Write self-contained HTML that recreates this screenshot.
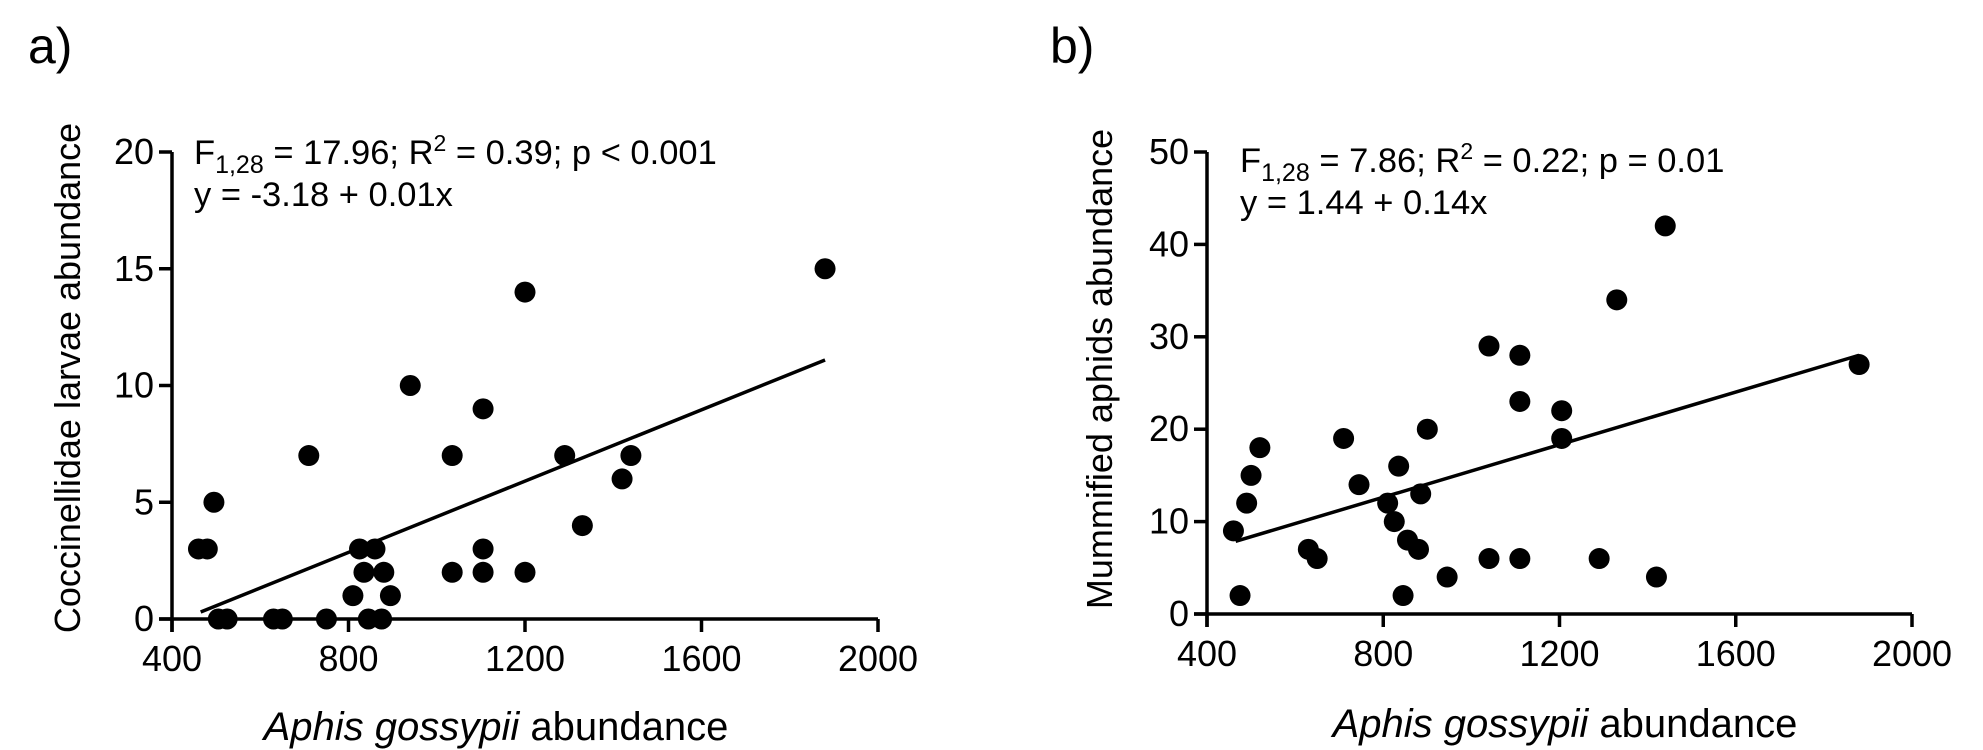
<!DOCTYPE html>
<html><head><meta charset="utf-8"><style>
html,body{margin:0;padding:0;background:#fff;}
svg{display:block;font-family:"Liberation Sans",Arial,sans-serif;}
</style></head><body>
<svg id="chart" width="1983" height="750" viewBox="0 0 1983 750" xmlns="http://www.w3.org/2000/svg">
<text x="28" y="63" font-size="50">a)</text>
<text x="1050" y="63" font-size="50">b)</text>
</svg>
<script>
const xTicks = [400, 800, 1200, 1600, 2000];
const aYTicks = [0, 5, 10, 15, 20];
const bYTicks = [0, 10, 20, 30, 40, 50];
const aX = [460,480,495,505,525,630,650,710,750,810,825,835,845,860,880,875,895,940,1035,1035,1105,1105,1105,1200,1200,1290,1330,1420,1440,1880];
const aY = [3,3,5,0,0,0,0,7,0,1,3,2,0,3,2,0,1,10,7,2,9,3,2,14,2,7,4,6,7,15];
const bX = [460,475,490,500,520,630,650,710,745,810,825,835,845,855,880,885,900,945,1040,1040,1110,1110,1110,1205,1205,1290,1330,1420,1440,1880];
const bY = [9,2,12,15,18,7,6,19,14,12,10,16,2,8,7,13,20,4,29,6,28,23,6,22,19,6,34,4,42,27];
const aFit = [-3.25, 0.00763];
const bFit = [1.25, 0.01423];
const fitRange = [465, 1880];

const NS = 'http://www.w3.org/2000/svg';
const svg = document.getElementById('chart');
function mk(tag, attrs, parent){const e=document.createElementNS(NS,tag);for(const k in attrs)e.setAttribute(k,attrs[k]);(parent||svg).appendChild(e);return e;}

function panel(p){
  const g = mk('g',{});
  
  
  const sx = v => p.x0 + (v - 400) / 1600 * (p.x1 - p.x0);
  const sy = v => p.y0 - v / p.ymax * (p.y0 - p.y1);
  const ya = mk('line',{x1:p.x0,y1:p.y1,x2:p.x0,y2:p.y0+13,stroke:'#000','stroke-width':3.5},g);
  
  
  const xa = mk('line',{x1:p.x0-13,y1:p.y0,x2:p.x1,y2:p.y0,stroke:'#000','stroke-width':3.5},g);
  
  
  p.yt.forEach(v=>{
    const y=sy(v);
    mk('line',{x1:p.x0-13,y1:y,x2:p.x0,y2:y,stroke:'#000','stroke-width':3.5},g);
    const t=mk('text',{x:p.x0-18,y:y+12,'font-size':36,'text-anchor':'end'},g);
    t.textContent=v;
    
    
  });
  xTicks.forEach(v=>{
    const x=sx(v);
    mk('line',{x1:x,y1:p.y0,x2:x,y2:p.y0+13,stroke:'#000','stroke-width':3.5},g);
    const t=mk('text',{x:x,y:p.y0+52,'font-size':36,'text-anchor':'middle'},g);
    t.textContent=v;
    
    
  });
  p.xs.forEach((v,i)=>{
    const c=mk('circle',{cx:sx(v),cy:sy(p.ys[i]),r:10.5,fill:'#000'},g);
    
    
  });
  const l=mk('line',{x1:sx(fitRange[0]),y1:sy(p.fit[0]+p.fit[1]*fitRange[0]),x2:sx(fitRange[1]),y2:sy(p.fit[0]+p.fit[1]*fitRange[1]),stroke:'#000','stroke-width':3.5},g);
  
  
  const a1=mk('text',{x:p.ax,y:p.ay,'font-size':34.5},g);
  a1.innerHTML='F<tspan font-size="25" dy="9">1,28</tspan><tspan dy="-9"> = '+p.stat1+'; R</tspan><tspan font-size="23" dy="-13">2</tspan><tspan dy="13"> = '+p.stat2+'</tspan>';
  
  
  const a2=mk('text',{x:p.ax,y:p.ay+42,'font-size':34.5},g);
  a2.textContent=p.eq;
  
  
  const yt=mk('text',{x:0,y:0,'font-size':36,'text-anchor':'middle',transform:'translate('+p.ytx+','+p.yty+') rotate(-90)'},g);
  yt.textContent=p.ytitle;
  
  
  const xt=mk('text',{x:p.xtx,y:p.xty,'font-size':40,'text-anchor':'middle'},g);
  xt.innerHTML='<tspan font-style="italic">Aphis gossypii</tspan> abundance';
  
  
}
panel({id:'panel-a',x0:172,x1:878,y0:619,y1:152,ymax:20,yt:aYTicks,xs:aX,ys:aY,fit:aFit,
  ax:194,ay:164,stat1:'17.96',stat2:'0.39; p &lt; 0.001',eq:'y = -3.18 + 0.01x',
  ytitle:'Coccinellidae larvae abundance',ytx:80,yty:378,xtx:496,xty:740});
panel({id:'panel-b',x0:1207,x1:1912,y0:614,y1:152,ymax:50,yt:bYTicks,xs:bX,ys:bY,fit:bFit,
  ax:1240,ay:172,stat1:'7.86',stat2:'0.22; p = 0.01',eq:'y = 1.44 + 0.14x',
  ytitle:'Mummified aphids abundance',ytx:1112,yty:369,xtx:1565,xty:737});
</script>
</body></html>
